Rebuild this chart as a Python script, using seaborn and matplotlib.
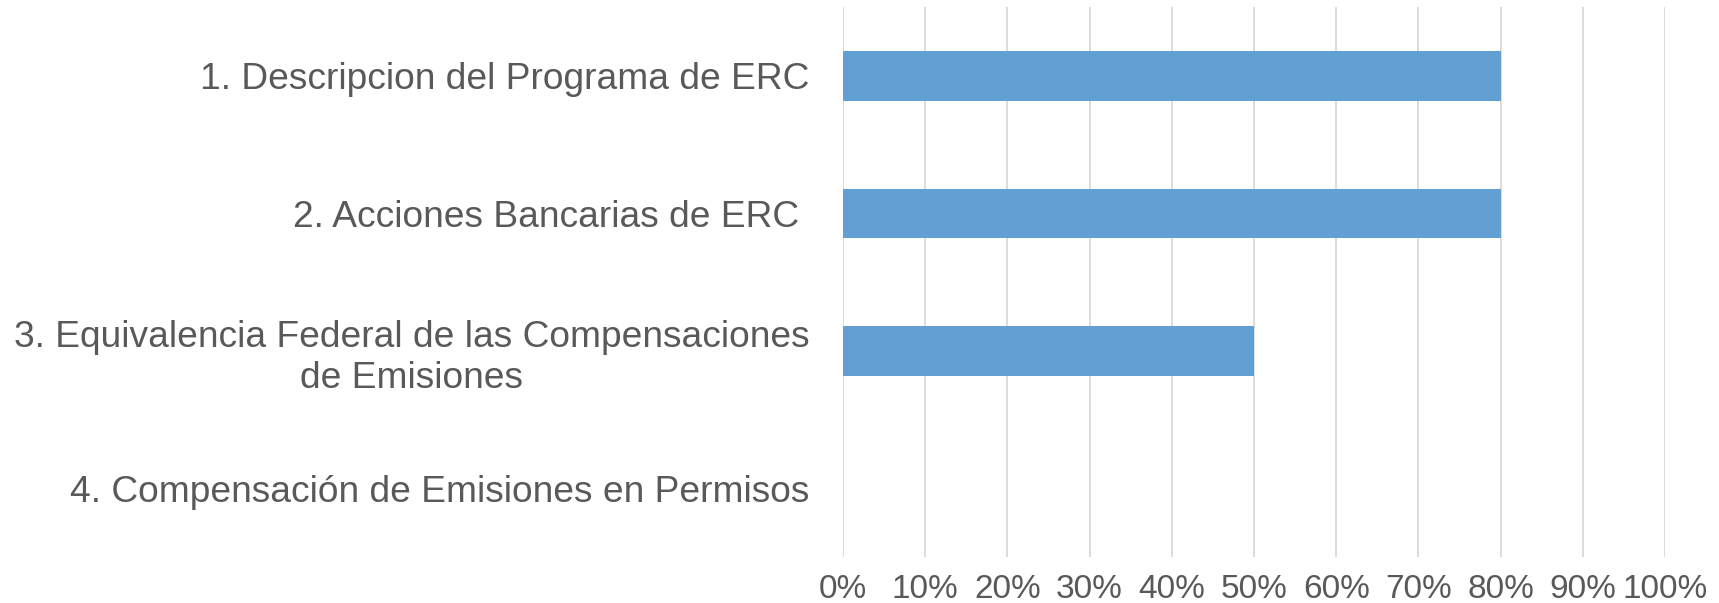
import matplotlib
matplotlib.use("Agg")
import matplotlib.pyplot as plt
import seaborn as sns
import pandas as pd
from matplotlib.ticker import FuncFormatter

categories = [
    "1. Descripcion del Programa de ERC",
    "2. Acciones Bancarias de ERC ",
    "3. Equivalencia Federal de las Compensaciones\nde Emisiones",
    "4. Compensación de Emisiones en Permisos",
]
values = [0.80, 0.80, 0.50, 0.0]
xticks = [i / 10 for i in range(11)]

sns.set_theme(style="white")
plt.rcParams['font.family'] = ['Liberation Sans', 'DejaVu Sans']

df = pd.DataFrame({"cat": categories, "val": values})

fig = plt.figure(figsize=(17.19, 6.03), dpi=100)
ax = fig.add_axes([843/1719, 1 - 557/603, (1665-843)/1719, (557-7)/603])

sns.barplot(data=df, x="val", y="cat", orient="h", color="#629FD2",
            saturation=1, width=0.36, linewidth=0, ax=ax, zorder=3)

ax.set_xlim(0, 1.0)
ax.set_ylim(3.5, -0.5)
ax.set_xticks(xticks)
ax.xaxis.set_major_formatter(FuncFormatter(lambda v, p: f"{int(round(v*100))}%"))
ax.grid(axis="x", color="#D9D9D9", linewidth=1.3, zorder=0)
ax.grid(axis="y", visible=False)
for s in ax.spines.values():
    s.set_visible(False)
ax.set_xlabel("")
ax.set_ylabel("")
ax.tick_params(axis="x", length=0, pad=12, labelsize=24, labelcolor="#595959")
ax.tick_params(axis="y", length=0, pad=24, labelsize=26.7, labelcolor="#595959")
for t in ax.get_yticklabels():
    t.set_multialignment("center")
    t.set_linespacing(1.25)

fig.savefig("out.png", dpi=100)
